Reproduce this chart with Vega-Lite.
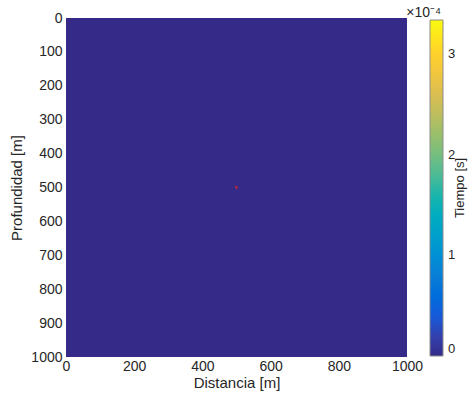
{
  "$schema": "https://vega.github.io/schema/vega-lite/v6.json",
  "width": 341,
  "height": 339,
  "autosize": {"type": "none"},
  "padding": {"left": 66, "top": 18, "right": 61, "bottom": 42},
  "background": "white",
  "config": {
    "font": "Liberation Sans",
    "view": {"stroke": null},
    "axis": {"labelFontSize": 14, "titleFontSize": 15, "labelColor": "#262626", "titleColor": "#262626", "titleFontWeight": "normal", "ticks": false, "domain": false, "grid": false, "labelOverlap": false, "labelFlush": false, "format": "d"}
  },
  "title": {"text": "×10⁻⁴", "anchor": "end", "frame": "group", "dx": 34, "dy": 13, "offset": 4, "fontSize": 14, "fontWeight": "normal", "color": "#262626"},
  "datasets": {
    "field": [{"x0": 0, "x1": 1000, "y0": 0, "y1": 1000, "tiempo": 0}],
    "fuente": [{"x0": 500, "y0": 500}]
  },
  "encoding": {
    "x": {"field": "x0", "type": "quantitative", "scale": {"domain": [0, 1000], "nice": false, "zero": false, "padding": 0}, "axis": {"title": "Distancia [m]", "values": [0, 200, 400, 600, 800, 1000], "labelFlush": false, "labelPadding": 2, "titlePadding": 2}},
    "y": {"field": "y0", "type": "quantitative", "scale": {"domain": [0, 1000], "nice": false, "zero": false, "padding": 0, "reverse": true}, "axis": {"title": "Profundidad [m]", "values": [0, 100, 200, 300, 400, 500, 600, 700, 800, 900, 1000], "labelFlush": false, "labelOverlap": false, "labelPadding": 4, "titlePadding": 6}}
  },
  "layer": [
    {
      "data": {"name": "field"},
      "mark": {"type": "rect"},
      "encoding": {
        "x2": {"field": "x1"},
        "y2": {"field": "y1"},
        "color": {
          "field": "tiempo", "type": "quantitative",
          "scale": {"domain": [0, 0.000334], "range": ["#352a87", "#0f5cdd", "#1481d6", "#06a4ca", "#2eb7a4", "#87bf77", "#d1bb59", "#fec832", "#f9fb0e"]},
          "legend": {
            "orient": "none", "legendX": 364, "legendY": 2, "direction": "vertical",
            "gradientLength": 336, "gradientThickness": 13,
            "gradientStrokeColor": "#8c8c8c", "gradientStrokeWidth": 1,
            "values": [0, 0.0001, 0.0002, 0.0003],
            "labelExpr": "format(datum.value * 10000, 'd')",
            "labelFontSize": 13, "labelColor": "#262626", "labelOffset": 5,
            "title": "Tiempo [s]", "titleOrient": "right",
            "titleFontSize": 13, "titleFontWeight": "normal", "titleColor": "#262626",
            "titleAnchor": "middle", "titlePadding": 12,
            "encode": {"title": {"update": {"angle": {"value": 270}, "baseline": {"value": "bottom"}}}}
          }
        }
      }
    },
    {
      "data": {"name": "fuente"},
      "mark": {"type": "point", "filled": true, "color": "#d62728", "size": 8, "opacity": 0.8}
    }
  ]
}
